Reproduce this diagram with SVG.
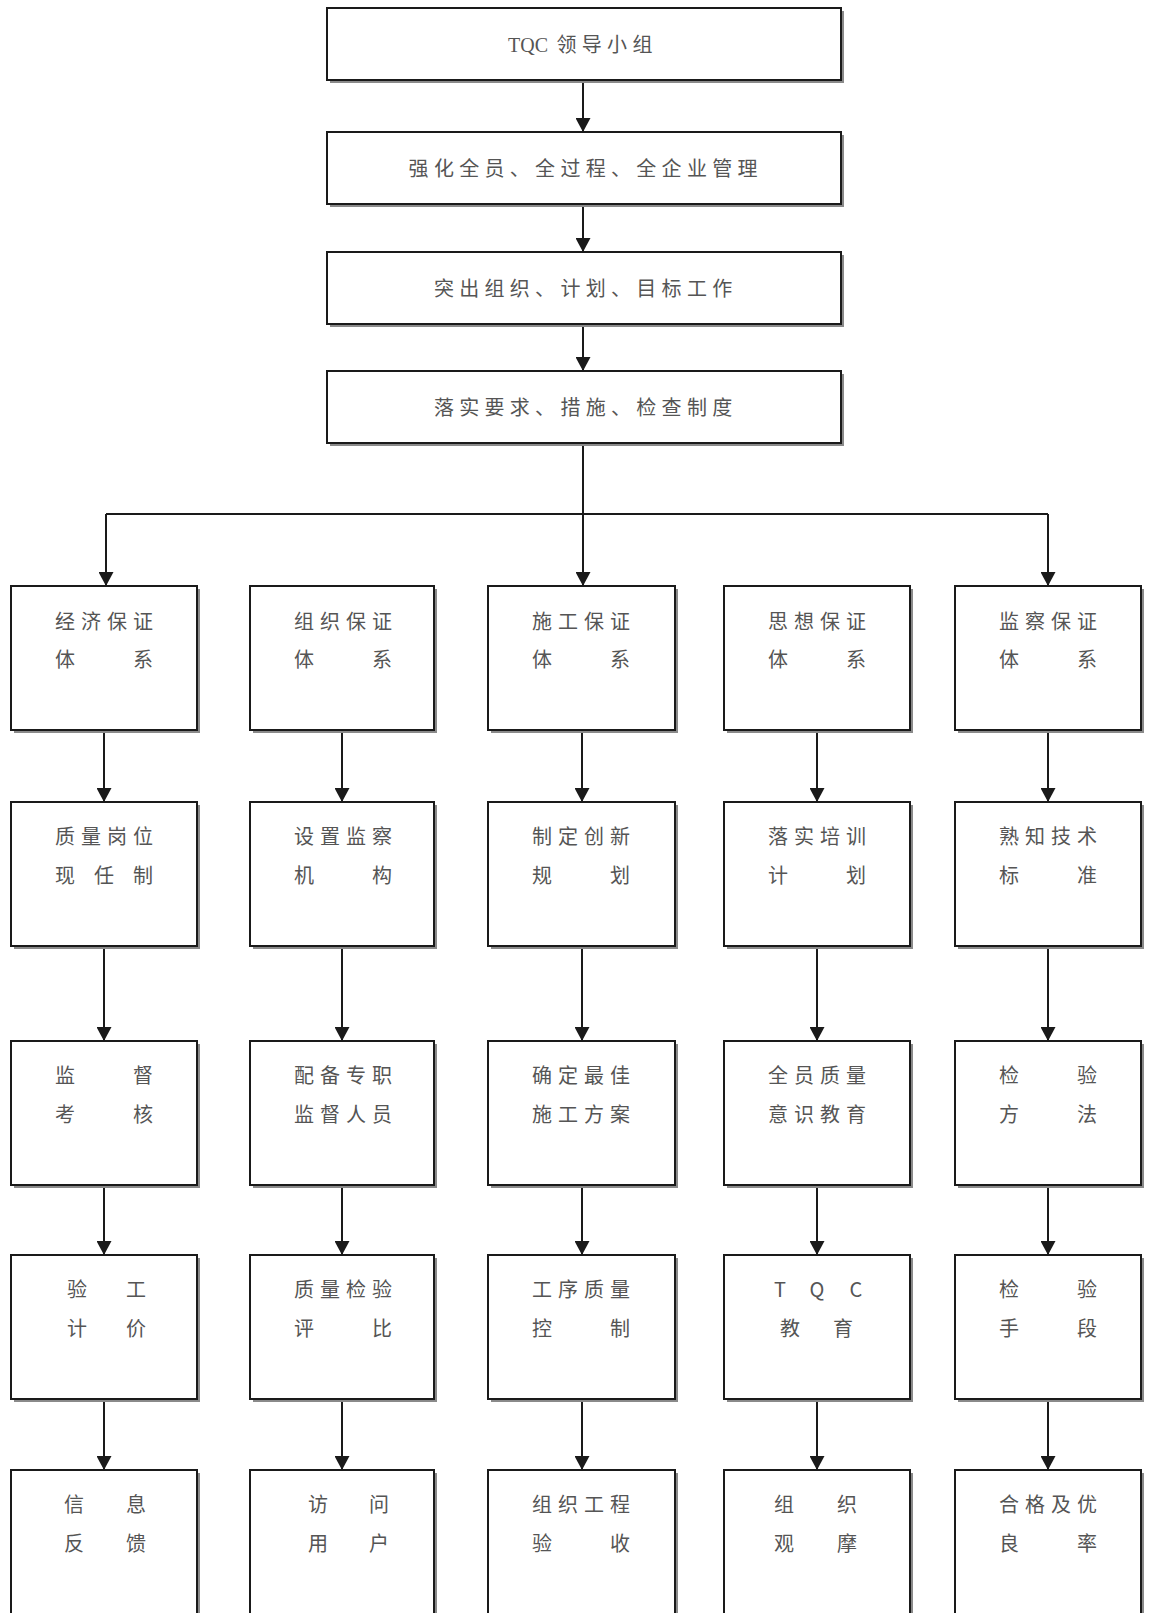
<svg xmlns="http://www.w3.org/2000/svg" width="1149" height="1613" viewBox="0 0 1149 1613">
<style>
.sh{fill:#8a8a8a}
.bx{fill:#fff;stroke:#1a1a1a;stroke-width:2}
.t{font-family:"Noto Sans CJK SC","Noto Sans CJK JP",sans-serif;font-size:20px;fill:#555;text-anchor:middle}
.tl{font-family:"Noto Sans CJK SC","Noto Sans CJK JP",sans-serif;font-size:20px;fill:#555}
.c{fill:none;stroke:#1a1a1a;stroke-width:2}
</style>
<defs>
<marker id="ah" viewBox="0 0 14 15" refX="14" refY="7.5" markerWidth="14" markerHeight="15" markerUnits="userSpaceOnUse" orient="auto">
<path d="M0,0 L14,7.5 L0,15 Z" fill="#1a1a1a"/>
</marker>
</defs>
<rect width="1149" height="1613" fill="#fff"/>

<g id="connectors">
<path class="c" d="M583,80 V132" marker-end="url(#ah)"/>
<path class="c" d="M583,204 V252" marker-end="url(#ah)"/>
<path class="c" d="M583,324 V371" marker-end="url(#ah)"/>
<path class="c" d="M583,443 V586" marker-end="url(#ah)"/>
<path class="c" d="M106,514 H1048"/>
<path class="c" d="M106,514 V586" marker-end="url(#ah)"/>
<path class="c" d="M1048,514 V586" marker-end="url(#ah)"/>
<path class="c" d="M104,730 V802" marker-end="url(#ah)"/>
<path class="c" d="M342,730 V802" marker-end="url(#ah)"/>
<path class="c" d="M582,730 V802" marker-end="url(#ah)"/>
<path class="c" d="M817,730 V802" marker-end="url(#ah)"/>
<path class="c" d="M1048,730 V802" marker-end="url(#ah)"/>
<path class="c" d="M104,946 V1041" marker-end="url(#ah)"/>
<path class="c" d="M342,946 V1041" marker-end="url(#ah)"/>
<path class="c" d="M582,946 V1041" marker-end="url(#ah)"/>
<path class="c" d="M817,946 V1041" marker-end="url(#ah)"/>
<path class="c" d="M1048,946 V1041" marker-end="url(#ah)"/>
<path class="c" d="M104,1185 V1255" marker-end="url(#ah)"/>
<path class="c" d="M342,1185 V1255" marker-end="url(#ah)"/>
<path class="c" d="M582,1185 V1255" marker-end="url(#ah)"/>
<path class="c" d="M817,1185 V1255" marker-end="url(#ah)"/>
<path class="c" d="M1048,1185 V1255" marker-end="url(#ah)"/>
<path class="c" d="M104,1399 V1470" marker-end="url(#ah)"/>
<path class="c" d="M342,1399 V1470" marker-end="url(#ah)"/>
<path class="c" d="M582,1399 V1470" marker-end="url(#ah)"/>
<path class="c" d="M817,1399 V1470" marker-end="url(#ah)"/>
<path class="c" d="M1048,1399 V1470" marker-end="url(#ah)"/>
</g>

<g id="n-top1"><rect class="sh" x="330" y="11" width="514" height="72"/><rect class="bx" x="327" y="8" width="514" height="72"/>
<text class="tl" x="508" y="51.5" style="font-family:'Liberation Serif',serif">TQC</text>
<text class="t" x="566.5 591.8 617.1 642.4" y="51.5">领导小组</text></g>

<g id="n-top2"><rect class="sh" x="330" y="135" width="514" height="72"/><rect class="bx" x="327" y="132" width="514" height="72"/>
<text class="t" x="418.6 443.9 469.2 494.5 519.8 545.1 570.4 595.7 621 646.3 671.6 696.9 722.2 747.5" y="175.5">强化全员、全过程、全企业管理</text></g>

<g id="n-top3"><rect class="sh" x="330" y="255" width="514" height="72"/><rect class="bx" x="327" y="252" width="514" height="72"/>
<text class="t" x="443.9 469.2 494.5 519.8 545.1 570.4 595.7 621 646.3 671.6 696.9 722.2" y="295.5">突出组织、计划、目标工作</text></g>

<g id="n-top4"><rect class="sh" x="330" y="374" width="514" height="72"/><rect class="bx" x="327" y="371" width="514" height="72"/>
<text class="t" x="443.9 469.2 494.5 519.8 545.1 570.4 595.7 621 646.3 671.6 696.9 722.2" y="414.5">落实要求、措施、检查制度</text></g>

<!-- row 1 -->
<g id="n-r1c1"><rect class="sh" x="14" y="589" width="186" height="144"/><rect class="bx" x="11" y="586" width="186" height="144"/>
<text class="t" x="65 91 117 143" y="628.5">经济保证</text><text class="t" x="65 143" y="666.5">体系</text></g>
<g id="n-r1c2"><rect class="sh" x="253" y="589" width="184" height="144"/><rect class="bx" x="250" y="586" width="184" height="144"/>
<text class="t" x="304 330 356 382" y="628.5">组织保证</text><text class="t" x="304 382" y="666.5">体系</text></g>
<g id="n-r1c3"><rect class="sh" x="491" y="589" width="187" height="144"/><rect class="bx" x="488" y="586" width="187" height="144"/>
<text class="t" x="542 568 594 620" y="628.5">施工保证</text><text class="t" x="542 620" y="666.5">体系</text></g>
<g id="n-r1c4"><rect class="sh" x="727" y="589" width="186" height="144"/><rect class="bx" x="724" y="586" width="186" height="144"/>
<text class="t" x="778 804 830 856" y="628.5">思想保证</text><text class="t" x="778 856" y="666.5">体系</text></g>
<g id="n-r1c5"><rect class="sh" x="958" y="589" width="186" height="144"/><rect class="bx" x="955" y="586" width="186" height="144"/>
<text class="t" x="1009 1035 1061 1087" y="628.5">监察保证</text><text class="t" x="1009 1087" y="666.5">体系</text></g>

<!-- row 2 -->
<g id="n-r2c1"><rect class="sh" x="14" y="805" width="186" height="144"/><rect class="bx" x="11" y="802" width="186" height="144"/>
<text class="t" x="65 91 117 143" y="843.5">质量岗位</text><text class="t" x="65 104 143" y="882.5">现任制</text></g>
<g id="n-r2c2"><rect class="sh" x="253" y="805" width="184" height="144"/><rect class="bx" x="250" y="802" width="184" height="144"/>
<text class="t" x="304 330 356 382" y="843.5">设置监察</text><text class="t" x="304 382" y="882.5">机构</text></g>
<g id="n-r2c3"><rect class="sh" x="491" y="805" width="187" height="144"/><rect class="bx" x="488" y="802" width="187" height="144"/>
<text class="t" x="542 568 594 620" y="843.5">制定创新</text><text class="t" x="542 620" y="882.5">规划</text></g>
<g id="n-r2c4"><rect class="sh" x="727" y="805" width="186" height="144"/><rect class="bx" x="724" y="802" width="186" height="144"/>
<text class="t" x="778 804 830 856" y="843.5">落实培训</text><text class="t" x="778 856" y="882.5">计划</text></g>
<g id="n-r2c5"><rect class="sh" x="958" y="805" width="186" height="144"/><rect class="bx" x="955" y="802" width="186" height="144"/>
<text class="t" x="1009 1035 1061 1087" y="843.5">熟知技术</text><text class="t" x="1009 1087" y="882.5">标准</text></g>

<!-- row 3 -->
<g id="n-r3c1"><rect class="sh" x="14" y="1044" width="186" height="144"/><rect class="bx" x="11" y="1041" width="186" height="144"/>
<text class="t" x="65 143" y="1082.5">监督</text><text class="t" x="65 143" y="1121.5">考核</text></g>
<g id="n-r3c2"><rect class="sh" x="253" y="1044" width="184" height="144"/><rect class="bx" x="250" y="1041" width="184" height="144"/>
<text class="t" x="304 330 356 382" y="1082.5">配备专职</text><text class="t" x="304 330 356 382" y="1121.5">监督人员</text></g>
<g id="n-r3c3"><rect class="sh" x="491" y="1044" width="187" height="144"/><rect class="bx" x="488" y="1041" width="187" height="144"/>
<text class="t" x="542 568 594 620" y="1082.5">确定最佳</text><text class="t" x="542 568 594 620" y="1121.5">施工方案</text></g>
<g id="n-r3c4"><rect class="sh" x="727" y="1044" width="186" height="144"/><rect class="bx" x="724" y="1041" width="186" height="144"/>
<text class="t" x="778 804 830 856" y="1082.5">全员质量</text><text class="t" x="778 804 830 856" y="1121.5">意识教育</text></g>
<g id="n-r3c5"><rect class="sh" x="958" y="1044" width="186" height="144"/><rect class="bx" x="955" y="1041" width="186" height="144"/>
<text class="t" x="1009 1087" y="1082.5">检验</text><text class="t" x="1009 1087" y="1121.5">方法</text></g>

<!-- row 4 -->
<g id="n-r4c1"><rect class="sh" x="14" y="1258" width="186" height="144"/><rect class="bx" x="11" y="1255" width="186" height="144"/>
<text class="t" x="77 136" y="1296.5">验工</text><text class="t" x="77 136" y="1335.5">计价</text></g>
<g id="n-r4c2"><rect class="sh" x="253" y="1258" width="184" height="144"/><rect class="bx" x="250" y="1255" width="184" height="144"/>
<text class="t" x="304 330 356 382" y="1296.5">质量检验</text><text class="t" x="304 382" y="1335.5">评比</text></g>
<g id="n-r4c3"><rect class="sh" x="491" y="1258" width="187" height="144"/><rect class="bx" x="488" y="1255" width="187" height="144"/>
<text class="t" x="542 568 594 620" y="1296.5">工序质量</text><text class="t" x="542 620" y="1335.5">控制</text></g>
<g id="n-r4c4"><rect class="sh" x="727" y="1258" width="186" height="144"/><rect class="bx" x="724" y="1255" width="186" height="144"/>
<text class="t" x="780 817 856" y="1296.5">TQC</text><text class="t" x="790 843" y="1335.5">教育</text></g>
<g id="n-r4c5"><rect class="sh" x="958" y="1258" width="186" height="144"/><rect class="bx" x="955" y="1255" width="186" height="144"/>
<text class="t" x="1009 1087" y="1296.5">检验</text><text class="t" x="1009 1087" y="1335.5">手段</text></g>

<!-- row 5 -->
<g id="n-r5c1"><rect class="sh" x="14" y="1473" width="186" height="160"/><rect class="bx" x="11" y="1470" width="186" height="160"/>
<text class="t" x="74 136" y="1511.5">信息</text><text class="t" x="74 136" y="1550.5">反馈</text></g>
<g id="n-r5c2"><rect class="sh" x="253" y="1473" width="184" height="160"/><rect class="bx" x="250" y="1470" width="184" height="160"/>
<text class="t" x="318 379" y="1511.5">访问</text><text class="t" x="318 379" y="1550.5">用户</text></g>
<g id="n-r5c3"><rect class="sh" x="491" y="1473" width="187" height="160"/><rect class="bx" x="488" y="1470" width="187" height="160"/>
<text class="t" x="542 568 594 620" y="1511.5">组织工程</text><text class="t" x="542 620" y="1550.5">验收</text></g>
<g id="n-r5c4"><rect class="sh" x="727" y="1473" width="186" height="160"/><rect class="bx" x="724" y="1470" width="186" height="160"/>
<text class="t" x="784 847" y="1511.5">组织</text><text class="t" x="784 847" y="1550.5">观摩</text></g>
<g id="n-r5c5"><rect class="sh" x="958" y="1473" width="186" height="160"/><rect class="bx" x="955" y="1470" width="186" height="160"/>
<text class="t" x="1009 1035 1061 1087" y="1511.5">合格及优</text><text class="t" x="1009 1087" y="1550.5">良率</text></g>
</svg>
